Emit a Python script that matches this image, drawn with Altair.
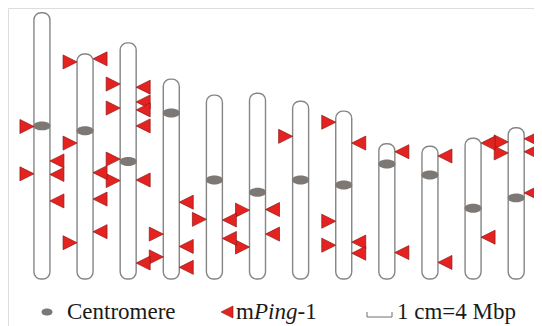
import altair as alt
import pandas as pd

# ---- data (Mbp, positions measured from the top of each chromosome) ----
chroms = list(range(1, 13))
lengths = [43.3, 36.6, 38.4, 32.5, 29.9, 30.2, 28.9, 27.3, 22.0, 21.6, 22.9, 24.6]
centromeres = [18.4, 12.5, 19.3, 5.5, 13.8, 16.1, 12.8, 12.0, 3.3, 4.7, 11.4, 11.4]

# mPing-1 insertions drawn on the left side of a chromosome (triangle pointing right)
left_chr = [1, 1, 2, 2, 2, 3, 3, 3, 3, 4, 4, 5, 6, 6, 7, 8, 8, 8, 12, 12]
left_pos = [18.5, 26.2, 1.3, 14.5, 30.7, 6.7, 10.6, 18.9, 22.4, 25.2, 28.9,
            20.2, 19.0, 25.0, 5.7, 1.8, 17.9, 21.8, 2.3, 4.1]

# mPing-1 insertions drawn on the right side (triangle pointing left)
right_chr = [1, 1, 1, 2, 2, 2, 2, 3, 3, 3, 3, 3, 3, 4, 4, 4, 5, 5, 6, 6,
             8, 8, 8, 9, 9, 10, 10, 11, 11, 12, 12, 12]
right_pos = [24.1, 26.3, 30.6, 0.8, 19.3, 23.6, 28.9, 7.2, 9.6, 10.9, 13.5, 22.3, 35.8,
             20.0, 27.2, 30.6, 20.3, 23.3, 18.9, 22.9, 5.2, 21.3, 23.1,
             1.3, 17.7, 1.6, 18.9, 0.8, 16.1, 1.8, 3.9, 10.6]

legend_labels = ["Centromere", "m", "Ping", "-1", "1 cm=4 Mbp"]

# ---- tables ----
length_of = dict(zip(chroms, lengths))
chrom_df = pd.DataFrame({"chr": chroms, "base": 0.0, "top": lengths,
                         "cen": [l - c for l, c in zip(lengths, centromeres)]})
left_df = pd.DataFrame({"chr": left_chr,
                        "y": [length_of[c] - p for c, p in zip(left_chr, left_pos)]})
right_df = pd.DataFrame({"chr": right_chr,
                         "y": [length_of[c] - p for c, p in zip(right_chr, right_pos)]})

W, H = 526, 318
xs = alt.Scale(domain=[0.3288, 12.297], nice=False, zero=False)
ys = alt.Scale(domain=[-7.64, 44.07], nice=False, zero=False)
X = alt.X("chr:Q", scale=xs, axis=None)

RED = "#e42320"
RED_STROKE = "#8e1717"
GREY = "#7d7874"
OUTLINE = "#858585"
FONT = "Liberation Serif"

tri_right = "M-2,-1L0,0L-2,1Z"
tri_left = "M2,-1L0,0L2,1Z"
ellipse = "M-1,0C-1,-0.7,1,-0.7,1,0C1,0.7,-1,0.7,-1,0Z"
ellipse_small = "M-1,0C-1,-0.85,1,-0.85,1,0C1,0.85,-1,0.85,-1,0Z"

bars = alt.Chart(chrom_df).mark_bar(
    size=16, cornerRadius=7, fill="white", stroke=OUTLINE, strokeWidth=1.4
).encode(x=X, y=alt.Y("base:Q", scale=ys, axis=None), y2="top:Q")

cen = alt.Chart(chrom_df).mark_point(
    shape=ellipse, size=289, filled=True, fill=GREY, stroke=GREY, strokeWidth=0, opacity=1
).encode(x=X, y=alt.Y("cen:Q", scale=ys, axis=None))

left = alt.Chart(left_df).mark_point(
    shape=tri_right, size=196, filled=True, fill=RED, stroke=RED_STROKE,
    strokeWidth=0.7, opacity=1, xOffset=-8
).encode(x=X, y=alt.Y("y:Q", scale=ys, axis=None))

right = alt.Chart(right_df).mark_point(
    shape=tri_left, size=196, filled=True, fill=RED, stroke=RED_STROKE,
    strokeWidth=0.7, opacity=1, xOffset=8
).encode(x=X, y=alt.Y("y:Q", scale=ys, axis=None))

one = alt.Data(values=[{"k": 0}])

leg_cen = alt.Chart(one).mark_point(
    shape=ellipse_small, size=121, filled=True, fill=GREY, strokeWidth=0, opacity=1
).encode(x=alt.value(39), y=alt.value(304))

leg_tri = alt.Chart(one).mark_point(
    shape=tri_left, size=144, filled=True, fill=RED, stroke=RED_STROKE,
    strokeWidth=0.6, opacity=1
).encode(x=alt.value(213), y=alt.value(304))

def txt(label, x, italic=False):
    return alt.Chart(one).mark_text(
        align="left", baseline="alphabetic", font=FONT, fontSize=23,
        fontStyle="italic" if italic else "normal", color="#1a1a1a"
    ).encode(x=alt.value(x), y=alt.value(311), text=alt.value(label))

t1 = txt(legend_labels[0], 59)
t2 = txt(legend_labels[1], 228)
t3 = txt(legend_labels[2], 246, italic=True)
t4 = txt(legend_labels[3], 289.5)
t5 = txt(legend_labels[4], 389)

br_h = alt.Chart(one).mark_rule(color="#6e6e6e", strokeWidth=1).encode(
    x=alt.value(359), x2=alt.value(384), y=alt.value(309))
br_l = alt.Chart(one).mark_rule(color="#6e6e6e", strokeWidth=1).encode(
    x=alt.value(359), y=alt.value(304), y2=alt.value(309))
br_r = alt.Chart(one).mark_rule(color="#6e6e6e", strokeWidth=1).encode(
    x=alt.value(384), y=alt.value(304), y2=alt.value(309))

chart = alt.layer(
    bars, cen, left, right, leg_cen, leg_tri, t1, t2, t3, t4, t5, br_h, br_l, br_r
).properties(
    width=W, height=H, autosize=alt.AutoSizeParams(type="none"), padding=0
).configure_view(stroke=None).configure(background="white")

chart.save("out.html", embed_options={"renderer": "svg", "actions": False})
